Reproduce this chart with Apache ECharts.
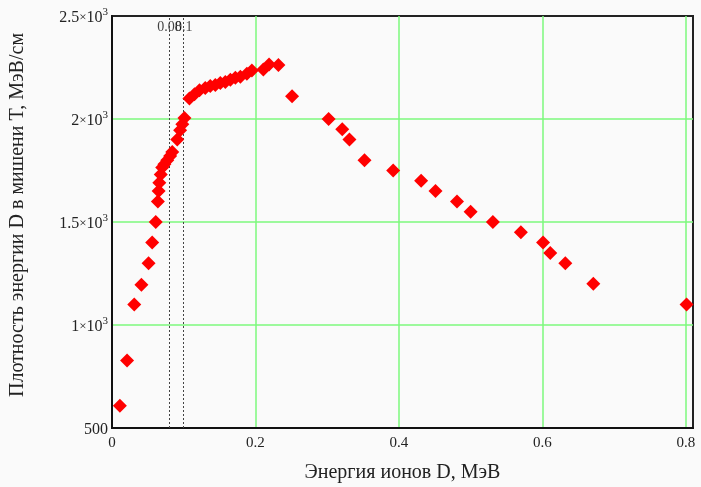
<!DOCTYPE html>
<html>
<head>
<meta charset="utf-8">
<script src="https://cdn.jsdelivr.net/npm/echarts@6/dist/echarts.min.js"></script>
<style>html,body{margin:0;padding:0;background:#fafafa}#c{width:701px;height:487px}</style>
</head>
<body>
<div id="c"></div>
<script>
// Energy of D ions, MeV
const energyX = [
  0.011, 0.021, 0.031, 0.041, 0.051, 0.056, 0.061, 0.064, 0.065, 0.066,
  0.068, 0.070, 0.073, 0.077, 0.081, 0.084, 0.091, 0.095, 0.098, 0.101,
  0.108, 0.115, 0.122, 0.130, 0.137, 0.144, 0.151, 0.158, 0.165, 0.172,
  0.179, 0.188, 0.195, 0.211, 0.219, 0.232,
  0.251, 0.302, 0.321, 0.331, 0.352, 0.392, 0.431, 0.451, 0.481, 0.500,
  0.531, 0.570, 0.601, 0.611, 0.632, 0.671, 0.801
];
// Energy density of D in target T, MeV/cm
const densityY = [
  608, 828, 1100, 1195, 1300, 1400, 1500, 1600, 1650, 1690,
  1730, 1765, 1780, 1800, 1820, 1840, 1900, 1945, 1975, 2005,
  2100, 2120, 2140, 2150, 2160, 2165, 2175, 2180, 2190, 2200,
  2205, 2220, 2235, 2240, 2265, 2262,
  2110, 2000, 1950, 1900, 1800, 1750, 1700, 1650, 1600, 1550,
  1500, 1450, 1400, 1350, 1300, 1200, 1100
];
// vertical marker lines
const markerX = [0.08, 0.1];
const markerLabels = ['0.08', '0.1'];
const markerLabelY = 2445;
// y tick labels (mantissa, exponent)
const yTickValues = [500, 1000, 1500, 2000, 2500];
const yTickMantissa = ['500', '1', '1.5', '2', '2.5'];
const yTickExp = ['', '3', '3', '3', '3'];
const xTickLabels = ['0', '0.2', '0.4', '0.6', '0.8'];

const FONT = '"Liberation Serif", "DejaVu Serif", serif';
const points = energyX.map((x, i) => [x, densityY[i]]);

const chart = echarts.init(document.getElementById('c'), null, {renderer: 'canvas'});
chart.setOption({
  backgroundColor: '#fafafa',
  animation: false,
  grid: {left: 112, right: 8, top: 16, bottom: 59, outerBoundsMode: 'none', containLabel: false,
         show: true, borderColor: '#222', borderWidth: 2, backgroundColor: '#fafafa'},
  xAxis: {
    type: 'value', min: 0, max: 0.81, interval: 0.2,
    name: 'Энергия ионов D, МэВ', nameLocation: 'middle', nameGap: 35,
    nameTextStyle: {fontFamily: FONT, fontSize: 20, color: '#222'},
    axisLine: {show: true, onZero: false, lineStyle: {color: '#111', width: 2}},
    axisTick: {show: false},
    axisLabel: {
      showMaxLabel: false, fontFamily: FONT, fontSize: 15, color: '#222', margin: 8,
      formatter: v => { const i = Math.round(v / 0.2); return Math.abs(v - i * 0.2) < 1e-9 ? xTickLabels[i] : ''; }
    },
    splitLine: {show: true, showMinLine: false, showMaxLine: false, lineStyle: {color: '#7df87d', width: 1.5}}
  },
  yAxis: {
    type: 'value', min: 500, max: 2500, interval: 500,
    name: 'Плотность энергии D в мишени T, МэВ/см', nameLocation: 'middle', nameGap: 84,
    nameTextStyle: {fontFamily: FONT, fontSize: 20, color: '#222', padding: [0, 0, 0, 14]},
    axisLine: {show: true, onZero: false, lineStyle: {color: '#111', width: 2}},
    axisTick: {show: false},
    axisLabel: {
      fontFamily: FONT, fontSize: 16, color: '#222', margin: 4,
      formatter: v => {
        const i = yTickValues.indexOf(v);
        if (i < 0) return '';
        if (!yTickExp[i]) return '{b|' + yTickMantissa[i] + '}';
        return '{b|' + yTickMantissa[i] + '}{x|×}{b|10}{s|' + yTickExp[i] + '}';
      },
      rich: {
        b: {fontFamily: FONT, fontSize: 16, color: '#222', padding: [4, 0, 0, 0]},
        x: {fontFamily: FONT, fontSize: 13, color: '#222', padding: [4, 0, 0, 0]},
        s: {fontFamily: FONT, fontSize: 11, color: '#222', padding: [0, 0, 8, 0]}
      }
    },
    splitLine: {show: true, showMinLine: false, showMaxLine: false, lineStyle: {color: '#7df87d', width: 1.5}}
  },
  series: [
    {
      type: 'scatter', data: points, symbol: 'diamond', symbolSize: 14,
      itemStyle: {color: '#ff0000', opacity: 1}, z: 5,
      markLine: {
        silent: true, symbol: 'none', animation: false,
        lineStyle: {color: '#444', type: [2, 2], width: 1},
        label: {show: false},
        data: markerX.map(x => ({xAxis: x}))
      }
    },
    {
      type: 'scatter', symbolSize: 0, silent: true,
      data: markerX.map((x, i) => ({value: [x, markerLabelY], label: {formatter: markerLabels[i]}})),
      label: {show: true, position: 'inside', fontFamily: FONT, fontSize: 14, color: '#111'}
    }
  ]
});
</script>
</body>
</html>
